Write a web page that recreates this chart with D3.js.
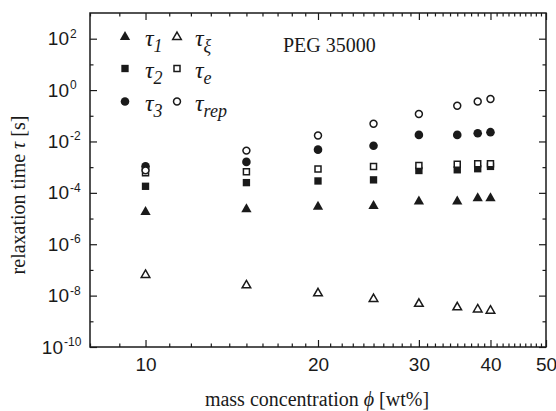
<!DOCTYPE html>
<html><head><meta charset="utf-8">
<script src="https://cdn.jsdelivr.net/npm/d3@7"></script>
<style>body{margin:0;background:#fff}</style>
</head><body>
<svg id="c" width="556" height="411"></svg>
<script>
// ---- data ----
const concentrations = [10, 15, 20, 25, 30, 35, 38, 40];
const tau1   = [1.8e-5, 2.3e-5, 2.9e-5, 3.1e-5, 4.6e-5, 4.6e-5, 6.2e-5, 6.2e-5];
const tauXi  = [6.4e-8, 2.5e-8, 1.23e-8, 7.4e-9, 4.8e-9, 3.5e-9, 2.9e-9, 2.6e-9];
const tau2   = [1.8e-4, 2.5e-4, 2.9e-4, 3.2e-4, 7.4e-4, 7.9e-4, 8.7e-4, 1.07e-3];
const tauE   = [6.0e-4, 6.6e-4, 8.4e-4, 1.06e-3, 1.15e-3, 1.3e-3, 1.35e-3, 1.35e-3];
const tau3   = [1.07e-3, 1.6e-3, 4.8e-3, 6.8e-3, 1.8e-2, 1.8e-2, 2.1e-2, 2.3e-2];
const tauRep = [7.5e-4, 4.4e-3, 1.7e-2, 4.9e-2, 0.117, 0.245, 0.36, 0.45];

const xMajorTicks = [10, 20, 30, 40, 50];
const xMinorTicks = d3.range(8, 50).filter(v => v % 10 !== 0);
const yMajorExponents = [-10, -8, -6, -4, -2, 0, 2];
const yMinorExponents = [-9, -7, -5, -3, -1, 1];

const xTitle = "mass concentration ";
const yTitle = "relaxation time ";
const annotation = "PEG 35000";

// ---- setup ----
const svg = d3.select("#c");
const L = 90, R = 546, T = 13, B = 347;
const x = d3.scaleLog().domain([8, 50]).range([L, R]);
const y = d3.scaleLog().domain([1e-10, 1e3]).range([B, T]);
const ink = "#1a1a1a";
const sans = "'Liberation Sans', Arial, sans-serif";
const serif = "'Liberation Serif', 'Times New Roman', serif";

function drawAxis(axis, transform) {
  const g = svg.append("g").attr("transform", transform).call(axis);
  g.select(".domain").remove();
  g.selectAll("line").attr("stroke", ink).attr("stroke-width", 1.2);
  return g;
}
const yMaj = yMajorExponents.map(e => Math.pow(10, e));
const yMin = yMinorExponents.map(e => Math.pow(10, e));

// bottom axis
const gb = drawAxis(d3.axisBottom(x).tickValues(xMajorTicks).tickSize(-7).tickPadding(11).tickFormat(d3.format("d")), `translate(0,${B})`);
gb.selectAll("text").attr("font-family", sans).attr("font-size", 19).attr("fill", ink);
drawAxis(d3.axisBottom(x).tickValues(xMinorTicks).tickSize(-3.5).tickFormat(""), `translate(0,${B})`);
// top axis
drawAxis(d3.axisTop(x).tickValues(xMajorTicks).tickSize(-7).tickFormat(""), `translate(0,${T})`);
drawAxis(d3.axisTop(x).tickValues(xMinorTicks).tickSize(-3.5).tickFormat(""), `translate(0,${T})`);
// left / right
drawAxis(d3.axisLeft(y).tickValues(yMaj).tickSize(-7).tickFormat(""), `translate(${L},0)`);
drawAxis(d3.axisLeft(y).tickValues(yMin).tickSize(-3.5).tickFormat(""), `translate(${L},0)`);
drawAxis(d3.axisRight(y).tickValues(yMaj).tickSize(-7).tickFormat(""), `translate(${R},0)`);
drawAxis(d3.axisRight(y).tickValues(yMin).tickSize(-3.5).tickFormat(""), `translate(${R},0)`);

// frame
svg.append("rect").attr("x", L).attr("y", T).attr("width", R - L).attr("height", B - T)
  .attr("fill", "none").attr("stroke", ink).attr("stroke-width", 1.5);

// y tick labels with superscripts
const yl = svg.append("g");
yMajorExponents.forEach(e => {
  const yy = y(Math.pow(10, e));
  const shift = String(e).length > 2 ? -6 : 0;
  yl.append("text").attr("x", 69 + shift).attr("y", yy + 6.5).attr("text-anchor", "end")
    .attr("font-family", sans).attr("font-size", 19).attr("fill", ink).text("10");
  yl.append("text").attr("x", 70 + shift).attr("y", yy - 1).attr("text-anchor", "start")
    .attr("font-family", sans).attr("font-size", 12).attr("fill", ink).text(String(e));
});

// axis titles
const xt = svg.append("text").attr("x", 317).attr("y", 406).attr("text-anchor", "middle")
  .attr("font-family", serif).attr("font-size", 20).attr("fill", ink);
xt.append("tspan").text(xTitle);
xt.append("tspan").attr("font-style", "italic").text("\u03D5");
xt.append("tspan").text(" [wt%]");

const yt = svg.append("text").attr("transform", "translate(25,195) rotate(-90)").attr("text-anchor", "middle")
  .attr("font-family", serif).attr("font-size", 20).attr("fill", ink);
yt.append("tspan").text(yTitle);
yt.append("tspan").attr("font-style", "italic").text("\u03C4");
yt.append("tspan").text(" [s]");

svg.append("text").attr("x", 283).attr("y", 52).attr("font-family", serif).attr("font-size", 20)
  .attr("fill", ink).text(annotation);

// ---- series ----
const series = [
  {name: "1", values: tau1, shape: d3.symbolTriangle, filled: true},
  {name: "2", values: tau2, shape: d3.symbolSquare, filled: true},
  {name: "3", values: tau3, shape: d3.symbolCircle, filled: true},
  {name: "\u03BE", values: tauXi, shape: d3.symbolTriangle, filled: false},
  {name: "e", values: tauE, shape: d3.symbolSquare, filled: false},
  {name: "rep", values: tauRep, shape: d3.symbolCircle, filled: false}
];
function sizeOf(s) {
  if (s.shape === d3.symbolTriangle) return s.filled ? 46 : 32;
  if (s.shape === d3.symbolSquare) return s.filled ? 54 : 36;
  return s.filled ? 58 : 38;
}
function styleMarker(sel, s) {
  sel.attr("d", d3.symbol().type(s.shape).size(sizeOf(s))())
    .attr("fill", s.filled ? ink : "#fff")
    .attr("stroke", s.filled ? "none" : ink)
    .attr("stroke-width", s.filled ? 0 : 1.5);
}
series.forEach(s => {
  svg.append("g").selectAll("path").data(concentrations.map((c, i) => [c, s.values[i]]))
    .join("path")
    .attr("transform", d => `translate(${x(d[0])},${y(d[1])})`)
    .call(sel => styleMarker(sel, s));
});

// ---- legend ----
const legendRows = [37, 68.5, 101.5];
const legendCols = [{mx: 125, tx: 145}, {mx: 177, tx: 195}];
series.forEach((s, i) => {
  const col = legendCols[Math.floor(i / 3)];
  const ry = legendRows[i % 3];
  svg.append("path").attr("transform", `translate(${col.mx},${ry})`).call(sel => styleMarker(sel, s));
  const t = svg.append("text").attr("x", col.tx).attr("y", ry + 9).attr("font-family", serif)
    .attr("font-style", "italic").attr("fill", ink).attr("font-size", 24);
  t.append("tspan").text("\u03C4");
  t.append("tspan").attr("font-size", 18).attr("dy", 6).text(s.name);
});
</script>
</body></html>
